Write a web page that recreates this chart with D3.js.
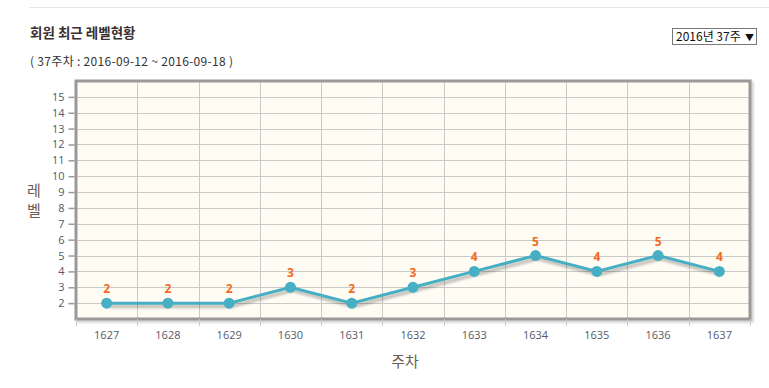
<!DOCTYPE html>
<html><head><meta charset="utf-8">
<script src="https://cdn.jsdelivr.net/npm/d3@7"></script>
<style>
html,body{margin:0;padding:0;background:#fff;}
svg{display:block;font-family:"Noto Sans CJK KR","Noto Sans",sans-serif;}
</style></head>
<body>
<svg id="c" width="769" height="388"></svg>
<script>
const weeks = ["1627","1628","1629","1630","1631","1632","1633","1634","1635","1636","1637"];
const levels = [2,2,2,3,2,3,4,5,4,5,4];
const yTicks = [2,3,4,5,6,7,8,9,10,11,12,13,14,15];
const titleText = "회원 최근 레벨현황";
const subText = "( 37주차 : 2016-09-12 ~ 2016-09-18 )";
const selectText = "2016년 37주";
const selectArrow = "▼";
const yTitle = ["레","벨"];
const xTitle = "주차";

const svg = d3.select("#c");
const L = 76, R = 750, T = 81, B = 319;

// top rule
svg.append("line").attr("x1",29).attr("x2",769).attr("y1",7.5).attr("y2",7.5).attr("stroke","#e6e6e6");

svg.append("text").attr("x",30).attr("y",38).attr("font-size",13.5).attr("font-weight","bold").attr("fill","#3a3030").text(titleText);
svg.append("text").attr("x",30).attr("y",66).attr("font-size",12).attr("fill","#333")
  .attr("textLength",203).attr("lengthAdjust","spacing").text(subText);

// dropdown
svg.append("rect").attr("x",672.5).attr("y",28.5).attr("width",84).attr("height",16).attr("fill","#fff").attr("stroke","#777");
svg.append("text").attr("x",676).attr("y",41).attr("font-size",12).attr("fill","#111").text(selectText);
svg.append("text").attr("x",745).attr("y",40.5).attr("font-size",9).attr("fill","#111").text(selectArrow);

const x = d3.scaleBand().domain(weeks).range([L,R]);
const y = d3.scaleLinear().domain([1,16]).range([B,T]);

const defs = svg.append("defs");
const f = defs.append("filter").attr("id","blur").attr("x","-10%").attr("y","-50%").attr("width","120%").attr("height","200%");
f.append("feGaussianBlur").attr("stdDeviation",1.2);
const f2 = defs.append("filter").attr("id","blur2").attr("x","-5%").attr("y","-5%").attr("width","110%").attr("height","110%");
f2.append("feGaussianBlur").attr("stdDeviation",1);

// plot shadow
svg.append("rect").attr("x",L+2).attr("y",T+2).attr("width",R-L).attr("height",B-T).attr("fill","none").attr("stroke","#ccc").attr("stroke-width",3).attr("filter","url(#blur2)");
svg.append("rect").attr("x",L).attr("y",T).attr("width",R-L).attr("height",B-T).attr("fill","#fffcf4");

// grid
svg.append("g").selectAll("line").data(yTicks).join("line")
  .attr("x1",L).attr("x2",R).attr("y1",d=>Math.round(y(d))+0.5).attr("y2",d=>Math.round(y(d))+0.5)
  .attr("stroke","#cccac6").attr("stroke-width",1);
const bounds = weeks.slice(1).map(w=>x(w));
svg.append("g").selectAll("line").data(bounds).join("line")
  .attr("x1",d=>Math.round(d)+0.5).attr("x2",d=>Math.round(d)+0.5).attr("y1",T).attr("y2",B)
  .attr("stroke","#cccac6").attr("stroke-width",1);

// border
svg.append("rect").attr("x",L).attr("y",T).attr("width",R-L).attr("height",B-T).attr("fill","none").attr("stroke","#999").attr("stroke-width",3);

// y axis
const yAxis = d3.axisLeft(y).tickValues(yTicks).tickSize(6).tickPadding(4);
const gy = svg.append("g").attr("transform",`translate(${L-1.5},0)`).call(yAxis);
gy.select(".domain").remove();
gy.selectAll(".tick line").attr("stroke","#999").attr("stroke-width",1.5);
gy.selectAll(".tick text").attr("font-size",11).attr("fill","#555a66").attr("font-family","'Open Sans','Noto Sans',sans-serif");

// x axis ticks at boundaries
const xb = [L].concat(bounds).concat([R]);
svg.append("g").selectAll("line").data(xb).join("line")
  .attr("x1",d=>Math.round(d)+0.5).attr("x2",d=>Math.round(d)+0.5).attr("y1",B).attr("y2",B+7)
  .attr("stroke","#ccc").attr("stroke-width",1);
svg.append("g").selectAll("text").data(weeks).join("text")
  .attr("x",d=>x(d)+x.bandwidth()/2).attr("y",339).attr("text-anchor","middle")
  .attr("font-size",11).attr("fill","#555a66").attr("font-family","'Open Sans','Noto Sans',sans-serif").text(d=>d);

// titles
svg.append("g").selectAll("text").data(yTitle).join("text")
  .attr("x",34).attr("y",(d,i)=>196+i*20).attr("text-anchor","middle").attr("font-size",15).attr("fill","#6b5b52").text(d=>d);
svg.append("text").attr("x",405).attr("y",367).attr("text-anchor","middle").attr("font-size",15).attr("fill","#6b5b52").text(xTitle);

// line
const pts = weeks.map((w,i)=>[x(w)+x.bandwidth()/2, y(levels[i])]);
const line = d3.line();
svg.append("path").attr("d",line(pts.map(p=>[p[0]+2,p[1]+3]))).attr("fill","none").attr("stroke","rgba(0,0,0,0.22)").attr("stroke-width",4).attr("filter","url(#blur)");
svg.append("path").attr("d",line(pts)).attr("fill","none").attr("stroke","#47afc4").attr("stroke-width",3);
svg.append("g").selectAll("circle").data(pts).join("circle")
  .attr("cx",d=>d[0]).attr("cy",d=>d[1]).attr("r",5.5).attr("fill","#47afc4");

svg.append("g").selectAll("text").data(weeks).join("text")
  .attr("x",(d)=>x(d)+x.bandwidth()/2).attr("y",(d,i)=>y(levels[i])-10).attr("text-anchor","middle")
  .attr("font-size",12).attr("font-weight","bold").attr("fill","#f26b21").attr("font-family","'Open Sans','Noto Sans',sans-serif").text((d,i)=>levels[i]);
</script>
</body></html>
